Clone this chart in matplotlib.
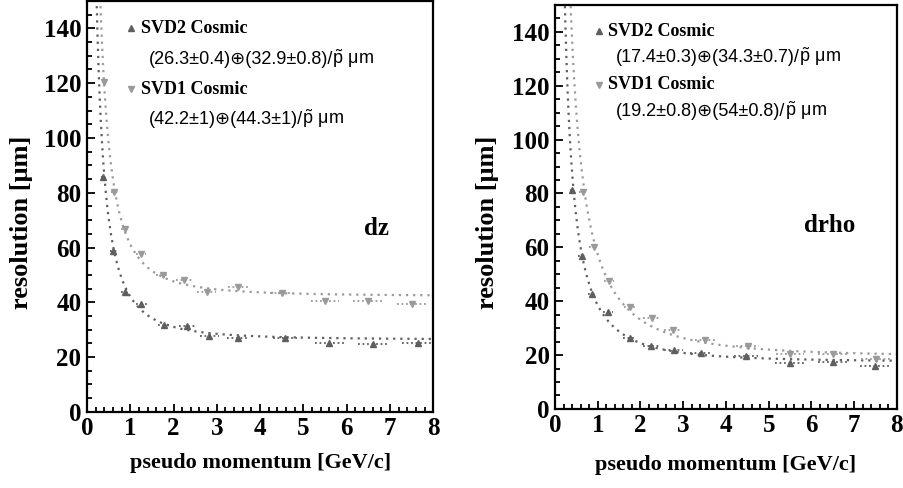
import numpy as np
import matplotlib.pyplot as plt
from matplotlib.ticker import MultipleLocator

plt.rcParams['mathtext.fontset'] = 'custom'
plt.rcParams['mathtext.rm'] = 'Liberation Sans'
plt.rcParams['mathtext.it'] = 'Liberation Sans:italic'

# ---- data ----
# dz panel
dz_p_svd2 = [0.37, 0.61, 0.89, 1.26, 1.78, 2.32, 2.83, 3.49, 4.58, 5.60, 6.62, 7.64]
dz_r_svd2 = [85.7, 58.8, 43.9, 39.4, 31.7, 31.5, 27.8, 27.0, 27.1, 25.3, 24.9, 25.0]
dz_p_svd1 = [0.39, 0.63, 0.89, 1.25, 1.75, 2.25, 2.77, 3.50, 4.50, 5.50, 6.50, 7.51]
dz_r_svd1 = [120.4, 80.3, 66.6, 57.6, 50.0, 48.2, 43.9, 45.5, 43.4, 40.6, 40.6, 39.4]
# drho panel
dr_p_svd2 = [0.40, 0.62, 0.87, 1.24, 1.75, 2.25, 2.78, 3.42, 4.47, 5.49, 6.50, 7.49]
dr_r_svd2 = [81.2, 56.8, 42.5, 35.9, 26.4, 23.2, 21.7, 20.7, 19.8, 17.0, 17.4, 16.1]
dr_p_svd1 = [0.65, 0.905, 1.26, 1.76, 2.27, 2.76, 3.52, 4.51, 5.50, 6.50, 7.51]
dr_r_svd1 = [80.4, 60.3, 47.5, 37.8, 33.8, 29.4, 25.6, 23.5, 20.4, 20.4, 18.6]

# horizontal bin half-widths (small dotted bars)
xerr12 = [0.05, 0.08, 0.1, 0.12, 0.15, 0.2, 0.22, 0.25, 0.27, 0.33, 0.35, 0.35]
xerr11 = [0.08, 0.1, 0.12, 0.15, 0.2, 0.22, 0.25, 0.27, 0.33, 0.35, 0.35]

# fit parameters: a (+) b / p
dz_fit = {"SVD2": (26.3, 32.9), "SVD1": (42.2, 44.3)}
dr_fit = {"SVD2": (17.4, 34.3), "SVD1": (19.2, 54.0)}
dz_labels = ["(26.3\u00b10.4)\u2295(32.9\u00b10.8)/",
             "(42.2\u00b11)\u2295(44.3\u00b11)/"]
dr_labels = ["(17.4\u00b10.3)\u2295(34.3\u00b10.7)/",
             "(19.2\u00b10.8)\u2295(54\u00b10.8)/"]
unit_tail = r"$\tilde{\mathrm{p}}$ $\mathrm{\mu m}$"

c2 = "#5f5f5f"   # SVD2 (darker)
c1 = "#9a9a9a"   # SVD1 (lighter)
serif = ["Liberation Serif", "DejaVu Serif"]
sans = ["Liberation Sans", "DejaVu Sans"]

fig = plt.figure(figsize=(9.04, 4.88), dpi=100)
ax1 = fig.add_axes([0.0962, 0.156, 0.383, 0.842])
ax2 = fig.add_axes([0.614, 0.162, 0.378, 0.828])
renderer = fig.canvas.get_renderer()


def formula(ax, x, y, prefix):
    # plain-text prefix (has the circled plus), then p-tilde and unit in mathtext
    t = ax.text(x, y, prefix, family=sans, fontsize=13, va="baseline")
    bb = t.get_window_extent(renderer)
    x1 = ax.transData.inverted().transform((bb.x1, bb.y0))[0]
    ax.text(x1 - 0.01, y, unit_tail, fontsize=13, va="baseline")


def panel(ax, p2, r2, e2, p1, r1, e1, fit, labels, tag, tagpos, legy, lab_xy):
    pp = np.linspace(0.15, 8.0, 600)
    for key, col in (("SVD1", c1), ("SVD2", c2)):
        a, b = fit[key]
        ax.plot(pp, np.sqrt(a ** 2 + (b / pp) ** 2), ls=(0, (1, 2.2)), lw=1.6,
                color=col, zorder=2)
    eb = ax.errorbar(p2, r2, xerr=e2, fmt="^", ms=5, color=c2, ecolor=c2,
                     elinewidth=1.3, capsize=0, zorder=3)
    eb[2][0].set_linestyle((0, (1, 1.5)))
    eb = ax.errorbar(p1, r1, xerr=e1, fmt="v", ms=5, color=c1, ecolor=c1,
                     elinewidth=1.3, capsize=0, zorder=3)
    eb[2][0].set_linestyle((0, (1, 1.5)))

    ax.set_xlim(0, 8)
    ax.set_ylim(0, 150)
    ax.xaxis.set_major_locator(MultipleLocator(1))
    ax.xaxis.set_minor_locator(MultipleLocator(0.2))
    ax.yaxis.set_major_locator(MultipleLocator(20))
    ax.yaxis.set_minor_locator(MultipleLocator(5))
    ax.tick_params(which="both", direction="in", top=False, right=False,
                   width=1.3, pad=4)
    ax.tick_params(which="major", length=6)
    ax.tick_params(which="minor", length=3.5)
    for s in ax.spines.values():
        s.set_linewidth(1.6)
    for lab in ax.get_xticklabels() + ax.get_yticklabels():
        lab.set_family(serif)
        lab.set_weight("bold")
        lab.set_fontsize(18)
    ax.set_xlabel("pseudo momentum [GeV/c]", family=serif, weight="bold",
                  fontsize=16)
    ax.set_ylabel("resolution [\u03bcm]", family=serif, weight="bold",
                  fontsize=19)
    ax.xaxis.set_label_coords(0.5, lab_xy[0])
    ax.yaxis.set_label_coords(lab_xy[1], 0.462)

    # legend-like annotations
    ax.plot([1.02], [legy[0]], "^", ms=4, color=c2, clip_on=False)
    ax.text(1.25, legy[0], "SVD2 Cosmic", family=serif, weight="bold",
            fontsize=13, va="center")
    formula(ax, 1.42, legy[1] - 2.3, labels[0])
    ax.plot([1.02], [legy[2]], "v", ms=4, color=c1, clip_on=False)
    ax.text(1.25, legy[2], "SVD1 Cosmic", family=serif, weight="bold",
            fontsize=13, va="center")
    formula(ax, 1.42, legy[3] - 2.3, labels[1])
    ax.text(tagpos[0], tagpos[1], tag, family=serif, weight="bold",
            fontsize=18, ha="center", va="center")


panel(ax1, dz_p_svd2, dz_r_svd2, xerr12, dz_p_svd1, dz_r_svd1, xerr12,
      dz_fit, dz_labels, "dz", (6.7, 67), (140, 129.4, 117.7, 107.5),
      (-0.10, -0.156))
panel(ax2, dr_p_svd2, dr_r_svd2, xerr12, dr_p_svd1, dr_r_svd1, xerr11,
      dr_fit, dr_labels, "drho", (6.43, 68), (140.3, 131, 120.4, 111),
      (-0.115, -0.164))

fig.savefig("out.png", dpi=100)
